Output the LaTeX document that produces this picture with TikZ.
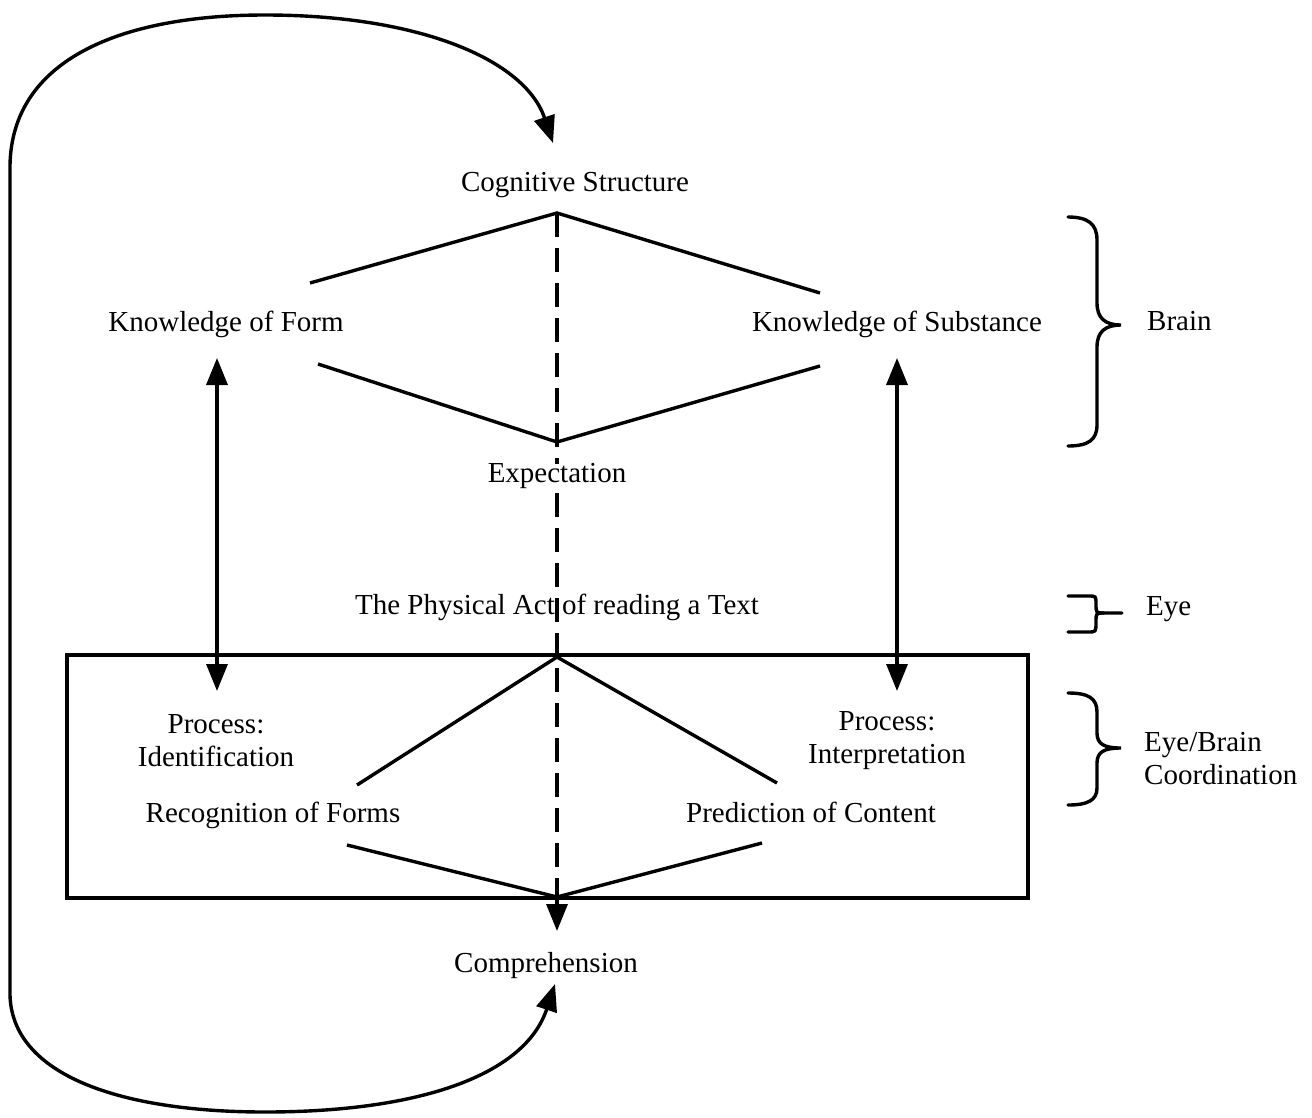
\documentclass[tikz,border=0pt]{standalone}
\usepackage{fontspec}
\setmainfont{Liberation Serif}
\usetikzlibrary{arrows.meta}
\begin{document}
\begin{tikzpicture}[x=1pt,y=-1pt,
  lbl/.style={inner sep=0pt, font=\fontsize{29}{33}\selectfont, text height=19pt, text depth=6pt, align=center},
  ln/.style={line width=3.4pt},
  tip/.style={-{Triangle[length=27pt,width=21pt]}},
  dtip/.style={{Triangle[length=27pt,width=21pt]}-{Triangle[length=27pt,width=21pt]}},
  dsh/.style={line width=3.2pt, dash pattern=on 24pt off 11pt}
]
\useasboundingbox (0,0) rectangle (1312,1117);

% box
\node[draw, line width=3.4pt, minimum width=961pt, minimum height=243pt, inner sep=0pt] (box) at (547.5,776.5) {};

% central dashed spine
\coordinate (apexT) at (557,213);
\coordinate (apexE) at (557,442);
\coordinate (apexB) at (557,657);
\coordinate (apexC) at (557,897);
\draw[dsh] (apexT) -- (apexC);

% text nodes
\node[lbl] (cs) at (575,185) {Cognitive Structure};
\node[lbl] (kf) at (226,325) {Knowledge of Form};
\node[lbl] (ks) at (897,325) {Knowledge of Substance};
\node[lbl, fill=white, inner xsep=2pt] (ex) at (557,476) {Expectation};
\node[lbl] (pa) at (557,608) {The Physical Act of reading a Text};
\node[lbl, text height=, text depth=] (pid) at (216,741) {Process:\\Identification};
\node[lbl, text height=, text depth=] (pin) at (887,741) {Process:\\Interpretation};
\node[lbl] (rf) at (273,816) {Recognition of Forms};
\node[lbl] (pc) at (811,816) {Prediction of Content};
\node[lbl] (co) at (546,966) {Comprehension};
\node[lbl, anchor=west] (brain) at (1147,324) {Brain};
\node[lbl, anchor=west] (eye) at (1146,609) {Eye};
\node[lbl, anchor=west, align=left, text height=, text depth=] (ebc) at (1144,759) {Eye/Brain\\Coordination};

% upper diamond
\coordinate (kfR1) at (310,283);
\coordinate (ksL1) at (820,293);
\coordinate (kfR2) at (318,364);
\coordinate (ksL2) at (820,366);
\draw[ln, line join=miter] (kfR1) -- (apexT) -- (ksL1);
\draw[ln] (kfR2) -- (apexE) -- (ksL2);

% box V lines
\coordinate (rfT) at (357,785);
\coordinate (pcT) at (777,783);
\coordinate (rfB) at (347,845);
\coordinate (pcB) at (762,843);
\draw[ln] (rfT) -- (apexB) -- (pcT);
\draw[ln] (rfB) -- (apexC) -- (pcB);

% arrow to comprehension
\coordinate (coIn) at (557,931);
\draw[ln, tip] (apexC) -- (coIn);

% double arrows
\coordinate (kfS) at (217,358);
\coordinate (pidN) at (217,691);
\coordinate (ksS) at (897,358);
\coordinate (pinN) at (897,691);
\draw[ln, dtip] (kfS) -- (pidN);
\draw[ln, dtip] (ksS) -- (pinN);

% big feedback loop
\coordinate (csIn) at (553,143);
\coordinate (coUp) at (555,984);
\draw[ln, dtip] (csIn) .. controls (525,60) and (420,15) .. (265,15)
  .. controls (120,15) and (12,60) .. (10,165) -- (10,995)
  .. controls (12,1075) and (120,1112) .. (265,1112)
  .. controls (420,1112) and (525,1075) .. (coUp);

% braces
\draw[ln, line cap=round] (1068,217) .. controls (1088,217) and (1097,224) .. (1097,240) -- (1097,303)
  .. controls (1097,318) and (1105,325) .. (1121,325)
  .. controls (1105,325) and (1097,332) .. (1097,347) -- (1097,425)
  .. controls (1097,440) and (1088,446) .. (1068,446);
\draw[ln, line cap=round] (1068,596) -- (1088,596) .. controls (1096,596) .. (1096,604)
  .. controls (1096,613) .. (1104,613) -- (1122,613);
\draw[ln, line cap=round] (1104,613) .. controls (1096,613) .. (1096,622)
  .. controls (1096,632) .. (1088,632) -- (1068,632);
\draw[ln, line cap=round] (1068,693) .. controls (1088,693) and (1097,698) .. (1097,712) -- (1097,733)
  .. controls (1097,744) and (1104,748) .. (1121,748)
  .. controls (1104,748) and (1097,752) .. (1097,763) -- (1097,788)
  .. controls (1097,800) and (1088,805) .. (1068,805);
\end{tikzpicture}
\end{document}
